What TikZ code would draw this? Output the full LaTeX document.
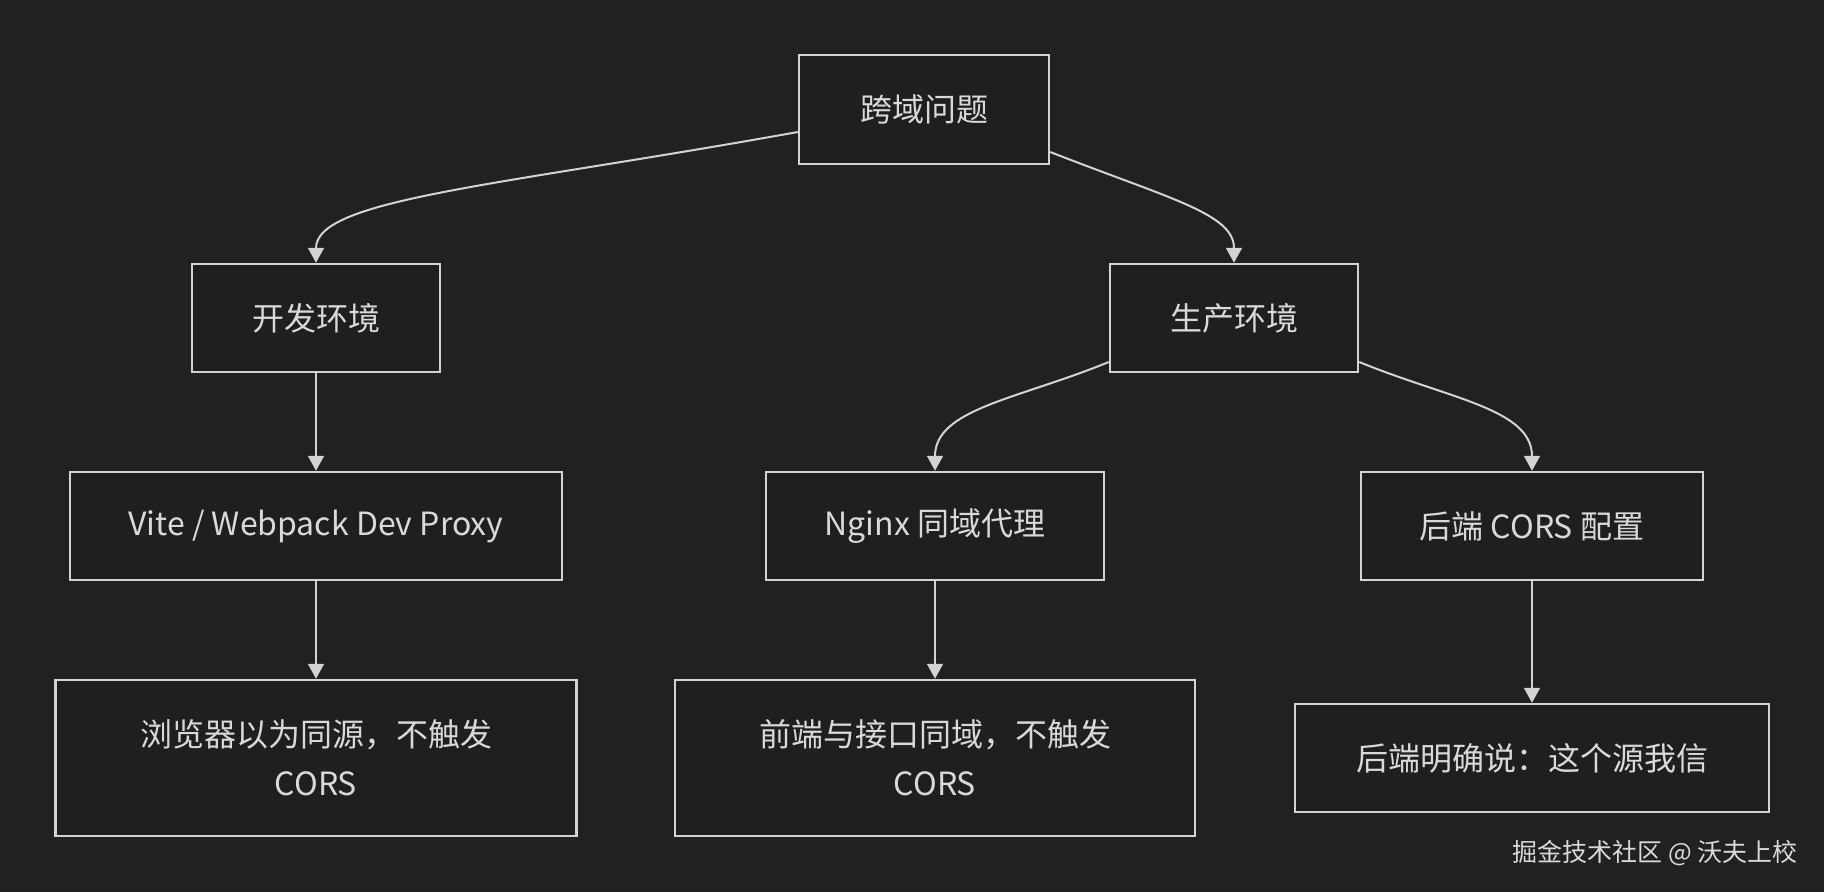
\documentclass[tikz,border=0pt]{standalone}
\usepackage{fontspec}
\setmainfont{Noto Sans CJK SC}
\usepackage{xcolor}
\usepackage{tikz}
\usetikzlibrary{arrows.meta}
\definecolor{bgdark}{HTML}{212121}
\definecolor{boxfill}{HTML}{1F1F1F}
\definecolor{edge}{HTML}{D3D3D3}
\definecolor{label}{HTML}{D9D9D9}
\tikzset{
  box/.style={draw=edge, fill=boxfill, line width=2.5pt, text=label, align=center,
    font=\fontsize{32}{49}\selectfont, inner sep=0pt},
  link/.style={draw=edge, line width=2pt, -{Triangle[length=15pt,width=16pt]}},
}

\begin{document}
\begin{tikzpicture}[x=1pt,y=1pt]
    \useasboundingbox (0,0) rectangle (1824,-892);
    \fill[bgdark] (0,0) rectangle (1824,-892);

    \node[box, minimum width=250pt, minimum height=109pt] (issue) at (924,-109.5) {跨域问题};
    \node[box, minimum width=248pt, minimum height=108pt] (dev) at (316,-318) {开发环境};
    \node[box, minimum width=248pt, minimum height=108pt] (prod) at (1234,-318) {生产环境};
    \node[box, minimum width=492pt, minimum height=108pt] (vite) at (316,-526) {Vite / Webpack Dev Proxy};
    \node[box, minimum width=338pt, minimum height=108pt] (nginx) at (935,-526) {Nginx 同域代理};
    \node[box, minimum width=342pt, minimum height=108pt] (cors) at (1532,-526) {后端 CORS 配置};
    \node[box, minimum width=521pt, minimum height=156pt] (browser) at (316,-758) {浏览器以为同源，不触发\\CORS};
    \node[box, minimum width=520pt, minimum height=156pt] (sameorigin) at (935,-758) {前端与接口同域，不触发\\CORS};
    \node[box, minimum width=474pt, minimum height=108pt] (trust) at (1532,-758) {后端明确说：这个源我信};

    \node[text=label, font=\fontsize{25}{25}\selectfont] (mark) at (1655,-853) {掘金技术社区 @ 沃夫上校};

    \draw[link] ([yshift=-22.5pt]issue.west) .. controls +(-299,-54) and +(0,64) .. (dev.north);
    \draw[link] ([yshift=-42.5pt]issue.east) .. controls +(120,-47) and +(0,49) .. (prod.north);
    \draw[link] (dev.south) -- (vite.north);
    \draw[link] (vite.south) -- (browser.north);
    \draw[link] ([yshift=-44pt]prod.west) .. controls +(-90,-37) and +(0,62) .. (nginx.north);
    \draw[link] ([yshift=-44pt]prod.east) .. controls +(90,-37) and +(0,62) .. (cors.north);
    \draw[link] (nginx.south) -- (sameorigin.north);
    \draw[link] (cors.south) -- (trust.north);

      % \draw[help lines, step=100] (0,0) grid (1824,-892);
\end{tikzpicture}
\end{document}
